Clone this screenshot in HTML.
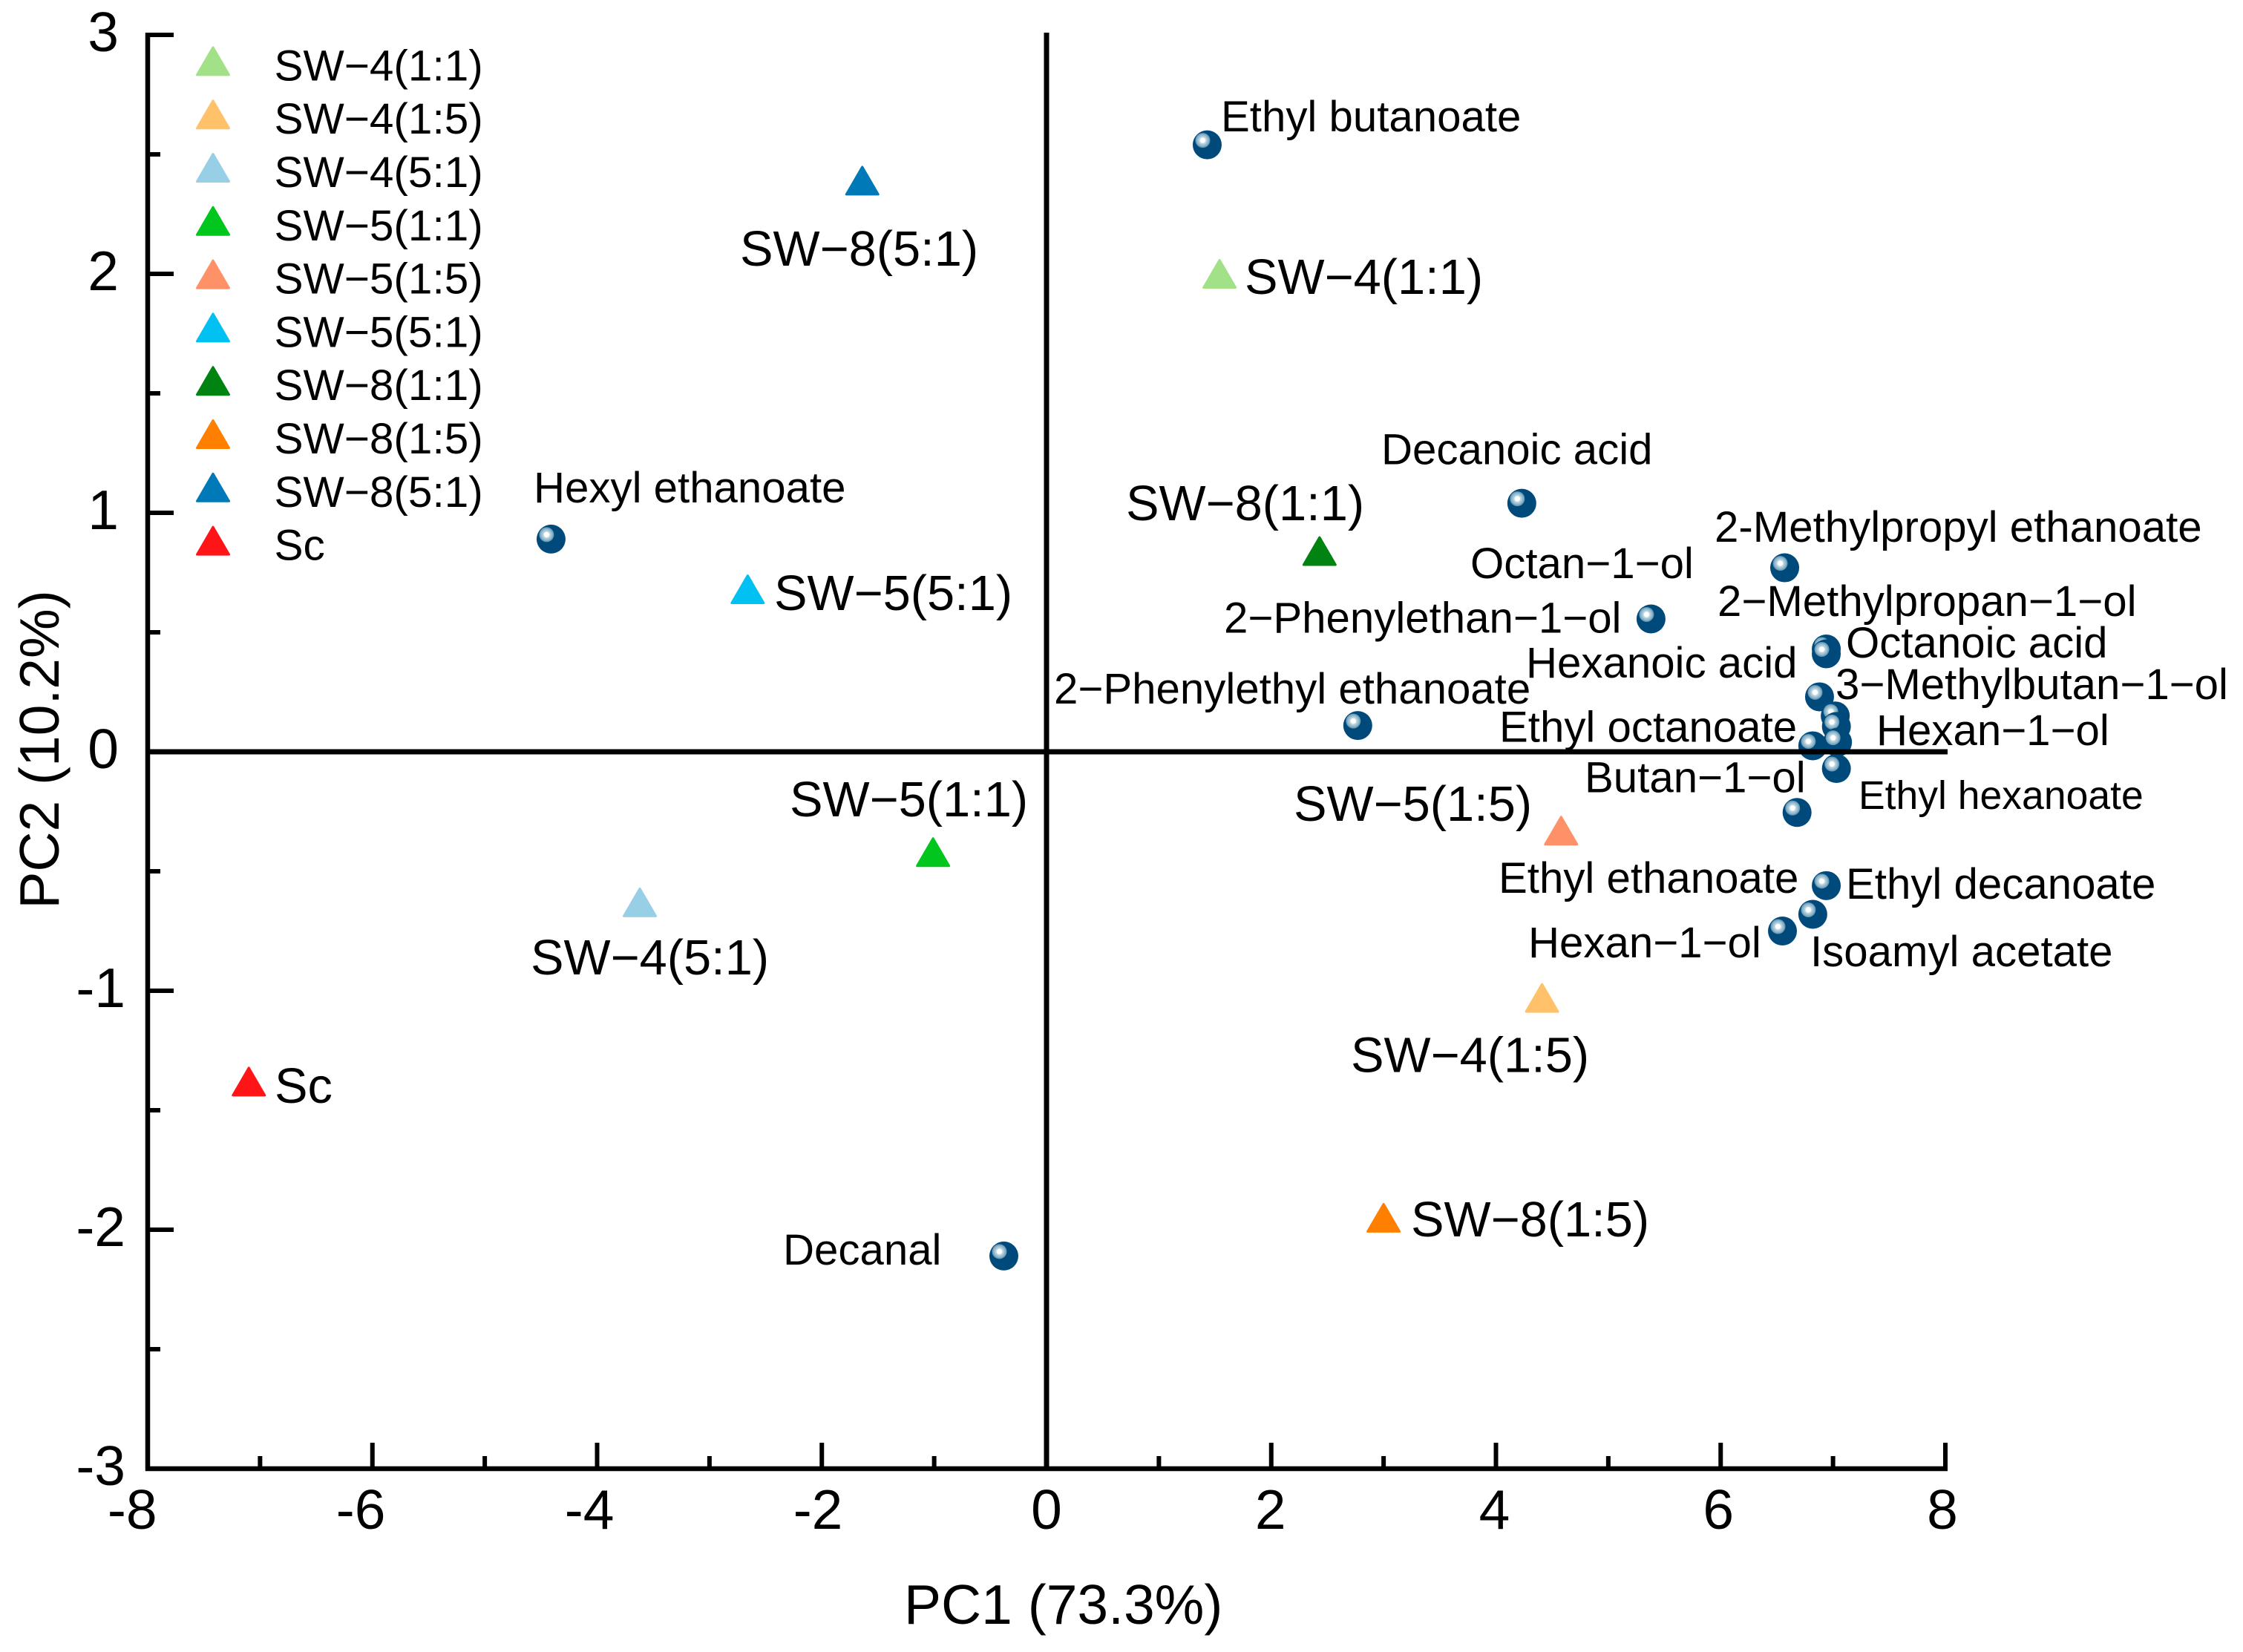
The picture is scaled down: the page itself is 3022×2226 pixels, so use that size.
<!DOCTYPE html>
<html lang="en">
<head>
<meta charset="utf-8">
<title>PCA biplot</title>
<style>
html,body{margin:0;padding:0;background:#fff;width:3022px;height:2226px;overflow:hidden}
svg{display:block}
text{font-family:"Liberation Sans",Arial,sans-serif;fill:#000}
.c{font-size:58.2px}
.s{font-size:66.8px}
</style>
</head>
<body>
<svg id="chart" xmlns="http://www.w3.org/2000/svg" width="3022" height="2226" viewBox="0 0 3022 2226">
<defs>
<radialGradient id="shine">
<stop offset="0" stop-color="#fff"/><stop offset="0.3" stop-color="#fff"/><stop offset="0.45" stop-color="#bcd5e0"/><stop offset="0.75" stop-color="#8fb7cc"/><stop offset="1" stop-color="#5a90b0"/>
</radialGradient>
</defs>
<g id="ticks"></g>
<g id="tick-labels"></g>
<g id="compounds"></g>
<g id="samples"></g>
<g id="axes"></g>
<g id="legend"></g>

<text x="1218" y="2188" font-size="75">PC1 (73.3%)</text>
<text transform="translate(79,1010) rotate(-90)" text-anchor="middle" font-size="75">PC2 (10.2%)</text>

<g transform="translate(-3,0)">
<text class="c" x="1648" y="177">Ethyl butanoate</text>
<text class="c" x="722" y="677">Hexyl ethanoate</text>
<text class="c" x="1864" y="625.5">Decanoic acid</text>
<text class="c" x="2313" y="730">2-Methylpropyl ethanoate</text>
<text class="c" x="1984" y="779">Octan−1−ol</text>
<text class="c" x="2317" y="830">2−Methylpropan−1−ol</text>
<text class="c" x="1652" y="852.5">2−Phenylethan−1−ol</text>
<text class="c" x="2490" y="886">Octanoic acid</text>
<text class="c" x="2059" y="913">Hexanoic acid</text>
<text class="c" x="2476" y="942">3−Methylbutan−1−ol</text>
<text class="c" x="1423" y="948">2−Phenylethyl ethanoate</text>
<text class="c" x="2023" y="999.5">Ethyl octanoate</text>
<text class="c" x="2531" y="1004">Hexan−1−ol</text>
<text class="c" x="2138" y="1067.5">Butan−1−ol</text>
<text class="c" x="2507" y="1090" style="font-size:53.5px">Ethyl hexanoate</text>
<text class="c" x="2022" y="1203">Ethyl ethanoate</text>
<text class="c" x="2490" y="1211">Ethyl decanoate</text>
<text class="c" x="2062" y="1290">Hexan−1−ol</text>
<text class="c" x="2442" y="1302">Isoamyl acetate</text>
<text class="c" x="1058" y="1704">Decanal</text>
</g>

<g transform="translate(-2,0)">
<text class="s" x="999" y="358">SW−8(5:1)</text>
<text class="s" x="1679" y="396">SW−4(1:1)</text>
<text class="s" x="1519" y="701">SW−8(1:1)</text>
<text class="s" x="1045" y="822">SW−5(5:1)</text>
<text class="s" x="1066" y="1100">SW−5(1:1)</text>
<text class="s" x="1745" y="1106">SW−5(1:5)</text>
<text class="s" x="717" y="1313">SW−4(5:1)</text>
<text class="s" x="1822" y="1444.5">SW−4(1:5)</text>
<text class="s" x="372" y="1486">Sc</text>
<text class="s" x="1903" y="1666">SW−8(1:5)</text>
</g>
</svg>

<script>
var xTicks = [-8, -6, -4, -2, 0, 2, 4, 6, 8];
var xMinorTicks = [-7, -5, -3, -1, 1, 3, 5, 7];
var yTicks = [-3, -2, -1, 0, 1, 2, 3];
var yMinorTicks = [-2.5, -1.5, -0.5, 0.5, 1.5, 2.5];

var sampleNames = ['SW−4(1:1)', 'SW−4(1:5)', 'SW−4(5:1)', 'SW−5(1:1)', 'SW−5(1:5)', 'SW−5(5:1)', 'SW−8(1:1)', 'SW−8(1:5)', 'SW−8(5:1)', 'Sc'];
var sampleColors = ['#a3e188', '#ffc26b', '#97cfe6', '#00c61e', '#ff9169', '#00c1f2', '#008310', '#ff8000', '#0079b8', '#ff1418'];
var samplePC1 = [1.54, 4.41, -3.62, -1.01, 4.58, -2.66, 2.43, 3.0, -1.64, -7.1];
var samplePC2 = [2.0, -1.03, -0.63, -0.42, -0.33, 0.68, 0.84, -1.95, 2.39, -1.38];

var compoundPC1 = [1.43, -4.41, 4.23, 6.57, 5.38, 6.94, 6.94, 6.88, 7.02, 7.03, 7.04, 6.82, 7.03, 6.68, 2.77, 6.94, 6.82, 6.55, -0.38];
var compoundPC2 = [2.54, 0.89, 1.04, 0.77, 0.556, 0.43, 0.41, 0.23, 0.15, 0.106, 0.04, 0.025, -0.07, -0.254, 0.11, -0.56, -0.68, -0.75, -2.11];

var NS = 'http://www.w3.org/2000/svg';
var left = 199, right = 2621, top_ = 47, bottom = 1979;
function sx(v) { return left + (v + 8) / 16 * (right - left); }
function sy(v) { return top_ + (3 - v) / 6 * (bottom - top_); }
function mk(tag, attrs, parent) {
  var el = document.createElementNS(NS, tag);
  for (var k in attrs) el.setAttribute(k, attrs[k]);
  parent.appendChild(el);
  return el;
}
function line(x1, y1, x2, y2, w, parent) {
  return mk('line', {x1: x1, y1: y1, x2: x2, y2: y2, stroke: '#000', 'stroke-width': w}, parent);
}
function triangle(cx, cy, color, parent) {
  var pts = (cx) + ',' + (cy - 18.5) + ' ' + (cx + 21.5) + ',' + (cy + 18.5) + ' ' + (cx - 21.5) + ',' + (cy + 18.5);
  return mk('polygon', {points: pts, fill: color, stroke: color, 'stroke-width': 3, 'stroke-linejoin': 'round'}, parent);
}
function fmt(v) { return String(v); }

var ticks = document.getElementById('ticks');
var tickLabels = document.getElementById('tick-labels');
var axes = document.getElementById('axes');
var legend = document.getElementById('legend');
var compounds = document.getElementById('compounds');
var samples = document.getElementById('samples');

xTicks.forEach(function (v) {
  var t = line(sx(v), bottom, sx(v), bottom - 35, 6, ticks);
  
  
  var off = v < 0 ? 2.6 * v : -0.5 * v;
  var l = mk('text', {x: sx(v) + off, y: 2060, 'text-anchor': 'middle', 'font-size': 75}, tickLabels);
  l.textContent = fmt(v);
  
  
});
xMinorTicks.forEach(function (v) {
  var t = line(sx(v), bottom, sx(v), bottom - 17, 6, ticks);
  
  
});
yTicks.forEach(function (v) {
  var t = line(left, sy(v), left + 35, sy(v), 6, ticks);
  
  
  var l = mk('text', {x: v < 0 ? 169 : 160, y: sy(v) + 22, 'text-anchor': 'end', 'font-size': 75}, tickLabels);
  l.textContent = fmt(v);
  
  
});
yMinorTicks.forEach(function (v) {
  var t = line(left, sy(v), left + 17, sy(v), 6, ticks);
  
  
});

compoundPC1.forEach(function (v, i) {
  var g = mk('g', {transform: 'translate(' + sx(v) + ',' + sy(compoundPC2[i]) + ')'}, compounds);
  
  
  mk('circle', {r: 19.5, fill: '#004a7b'}, g);
  mk('circle', {cx: -6, cy: -6, r: 10, fill: 'url(#shine)'}, g);
});

samplePC1.forEach(function (v, i) {
  var t = triangle(sx(v), sy(samplePC2[i]), sampleColors[i], samples);
  
  
});

var yZero = line(sx(0), top_ - 3, sx(0), bottom, 7, axes);


var xZero = line(left, sy(0), right + 3, sy(0), 7, axes);


var axisY = line(left, top_ - 3, left, bottom + 3, 6.5, axes);


var axisX = line(left - 3, bottom, right + 3, bottom, 6.5, axes);



sampleNames.forEach(function (name, i) {
  var cy = 82.4 + i * 71.8;
  var g = mk('g', {}, legend);
  
  
  triangle(287, cy, sampleColors[i], g);
  var t = mk('text', {x: 369.5, y: cy + 26, 'font-size': 58.5}, g);
  t.textContent = name;
});
</script>
</body>
</html>
